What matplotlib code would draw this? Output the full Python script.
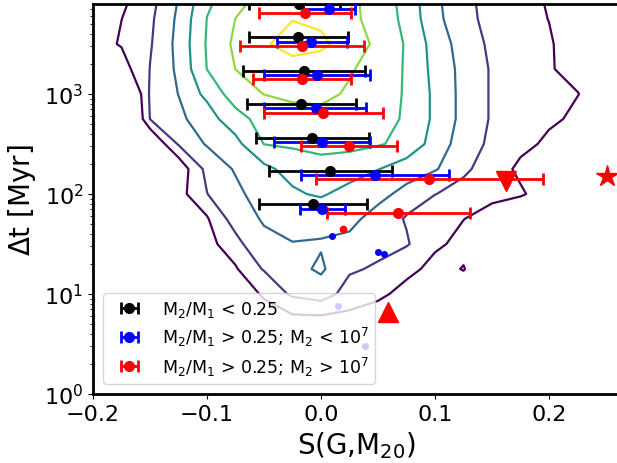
import matplotlib.pyplot as plt
import numpy as np

# binned medians (x, dt) with x ranges, M2/M1 < 0.25
black_x = [-0.019, -0.020, -0.015, -0.0175, -0.008, 0.008, -0.007]
black_t = [7943, 3715, 1698, 794, 363, 170, 79]
black_lo = [-0.063, -0.063, -0.068, -0.065, -0.057, -0.046, -0.054]
black_hi = [0.017, 0.024, 0.039, 0.031, 0.042, 0.062, 0.040]

# M2/M1 > 0.25, M2 < 1e7
blue_x = [0.007, -0.009, -0.0035, -0.0044, 0.001, 0.047, 0.001]
blue_t = [7079, 3311, 1549, 724, 331, 155, 71]
blue_lo = [-0.016, -0.039, -0.050, -0.050, -0.041, -0.0175, -0.018]
blue_hi = [0.030, 0.023, 0.043, 0.0395, 0.043, 0.112, 0.021]

# M2/M1 > 0.25, M2 > 1e7
red_x = [-0.014, -0.017, -0.017, 0.002, 0.025, 0.095, 0.0675]
red_t = [6457, 3020, 1413, 646, 302, 141, 65]
red_lo = [-0.054, -0.071, -0.060, -0.050, -0.0175, -0.0044, 0.005]
red_hi = [0.026, 0.038, 0.026, 0.054, 0.067, 0.195, 0.131]

# single systems
dot_red_x = [0.019]
dot_red_t = [45]
dot_blue_x = [0.0096, 0.050, 0.055, 0.015, 0.0386]
dot_blue_t = [38, 26.3, 25, 7.6, 3.0]
tri_up = (0.059, 6.6)
tri_down = (0.162, 135)
star = (0.251, 151)

# density levels (rows: log10 dt, cols: S)
grid_x = np.arange(-0.2, 0.3001, 0.025)
grid_logt = np.arange(0, 4.001, 0.25)
density = [
    [0, 0, 0, 0, 0, 0, 0, 0, 0, 0, 0, 0, 0, 0, 0, 0, 0, 0, 0, 0, 0],
    [0, 0, 0, 0, 0, 0, 0.1, 0.1, 0.1, 0.1, 0.1, 0, 0, 0, 0, 0, 0, 0, 0, 0, 0],
    [0, 0, 0, 0, 0, 0.1, 0.3, 0.4, 0.4, 0.35, 0.3, 0.2, 0, 0, 0, 0, 0, 0, 0, 0, 0],
    [0, 0, 0, 0, 0, 0.2, 0.7, 0.8, 0.8, 0.8, 0.6, 0.4, 0.3, 0.3, 0.1, 0, 0, 0, 0, 0, 0],
    [0, 0, 0, 0, 0.1, 0.5, 1.1, 2.2, 2.6, 1.5, 1.2, 0.7, 0.5, 0.6, 0.2, 0, 0, 0, 0, 0, 0],
    [0, 0, 0, 0, 0.3, 0.9, 2.1, 2.7, 3.15, 2.2, 1.8, 1.3, 0.7, 1.04, 0.3, 0, 0, 0, 0, 0, 0],
    [0, 0, 0, 0.1, 0.6, 1.7, 2.8, 2.97, 2.9, 2.85, 2.6, 2.1, 1.2, 0.7, 0.2, 0, 0, 0, 0, 0, 0],
    [0, 0, 0, 0.3, 0.9, 2.5, 3.1, 3.4, 3.5, 3.2, 2.7, 1.9, 1.5, 1.02, 0.5, 0.3, 0, 0, 0, 0, 0],
    [0, 0, 0, 0.6, 1.98, 2.8, 3.4, 3.9, 4.1, 3.7, 3.3, 2.7, 2.02, 1.7, 1.4, 1.1, 0.6, 0, 0, 0, 0],
    [0, 0, 0.2, 0.3, 2.3, 3.1, 3.8, 4.3, 4.7, 4.5, 4.03, 3.6, 3.1, 2.2, 1.5, 0.8, 0.2, 0, 0, 0, 0],
    [0, -0.5, -0.2, 2.1, 3.1, 3.7, 5.02, 5.2, 5.3, 5.3, 5.1, 4.7, 3.6, 2.5, 1.8, 1.3, 0.8, 0.2, 0, 0, 0],
    [-2, -2, 2.02, 2.8, 3.5, 4.7, 5.3, 5.7, 5.8, 5.5, 5.3, 4.9, 3.8, 2.7, 1.9, 1.6, 1.2, 0.8, 0.3, 0, 0],
    [-1.5, -1.5, 2.13, 3.02, 4.3, 5.5, 6.02, 6.2, 6.2, 5.9, 5.5, 4.9, 3.8, 2.7, 1.9, 1.6, 1.3, 1.03, 0.5, 0, 0],
    [0.2, 0.5, 2.02, 3.2, 5.02, 6.01, 6.3, 6.6, 6.5, 6.1, 5.6, 4.9, 3.7, 2.7, 1.9, 1.5, 1.1, 0.6, 0.1, 0, 0],
    [0.5, 1.1, 1.9, 3.3, 5.1, 6.2, 6.85, 7.5, 7.25, 6.5, 5.8, 4.9, 3.6, 2.55, 1.8, 1.5, 1.1, 0.5, 0, 0, 0],
    [0.4, 0.99, 1.8, 3.2, 5.02, 6.01, 6.4, 6.95, 6.7, 6.2, 5.7, 4.7, 3.3, 2.3, 1.7, 1.4, 0.98, 0.4, 0, 0, 0],
    [0.2, 0.7, 1.6, 3.0, 4.7, 5.6, 6.2, 6.5, 6.4, 6.2, 5.6, 4.6, 3.2, 2.2, 1.7, 1.3, 0.9, 0.4, 0, 0, 0],
]

fig = plt.figure(figsize=(6.17, 4.64), dpi=100)
ax = fig.add_axes([93 / 617, 69 / 464, 527 / 617, 390 / 464])

X, Y = np.meshgrid(grid_x, 10 ** grid_logt)
ax.contour(X, Y, np.array(density), levels=[1, 2, 3, 4, 5, 6, 7],
           cmap='viridis', linewidths=1.6, zorder=1)


def bars(x, t, lo, hi, color, label):
    x = np.array(x)
    err = [x - np.array(lo), np.array(hi) - x]
    ax.errorbar(x, t, xerr=err, fmt='o', color=color, ms=7, elinewidth=2,
                capsize=4, capthick=2, label=label, zorder=3)


bars(black_x, black_t, black_lo, black_hi, 'k', r'M$_2$/M$_1$ < 0.25')
bars(blue_x, blue_t, blue_lo, blue_hi, 'b', r'M$_2$/M$_1$ > 0.25; M$_2$ < 10$^7$')
bars(red_x, red_t, red_lo, red_hi, 'r', r'M$_2$/M$_1$ > 0.25; M$_2$ > 10$^7$')

ax.plot(dot_blue_x, dot_blue_t, 'o', color='b', ms=4, zorder=3)
ax.plot(dot_red_x, dot_red_t, 'o', color='r', ms=4.5, zorder=3)
ax.plot(*tri_up, '^', color='r', ms=15, zorder=4)
ax.plot(*tri_down, 'v', color='r', ms=15, zorder=4)
ax.plot(*star, '*', color='r', ms=16, zorder=4)

ax.set_yscale('log')
ax.set_xlim(-0.2, 0.2623)
ax.set_ylim(1, 10 ** 3.9)
ax.set_xticks([-0.2, -0.1, 0.0, 0.1, 0.2])
ax.set_xlabel(r'S(G,M$_{20}$)', fontsize=20)
ax.set_ylabel(r'$\Delta$t [Myr]', fontsize=20)
ax.tick_params(labelsize=16)
for s in ax.spines.values():
    s.set_linewidth(2)

ax.legend(loc='lower left', fontsize=12.5, labelspacing=0.35,
          borderaxespad=0.6, borderpad=0.35, handlelength=2.3,
          handletextpad=0.7)

fig.savefig('out.png', dpi=100)
